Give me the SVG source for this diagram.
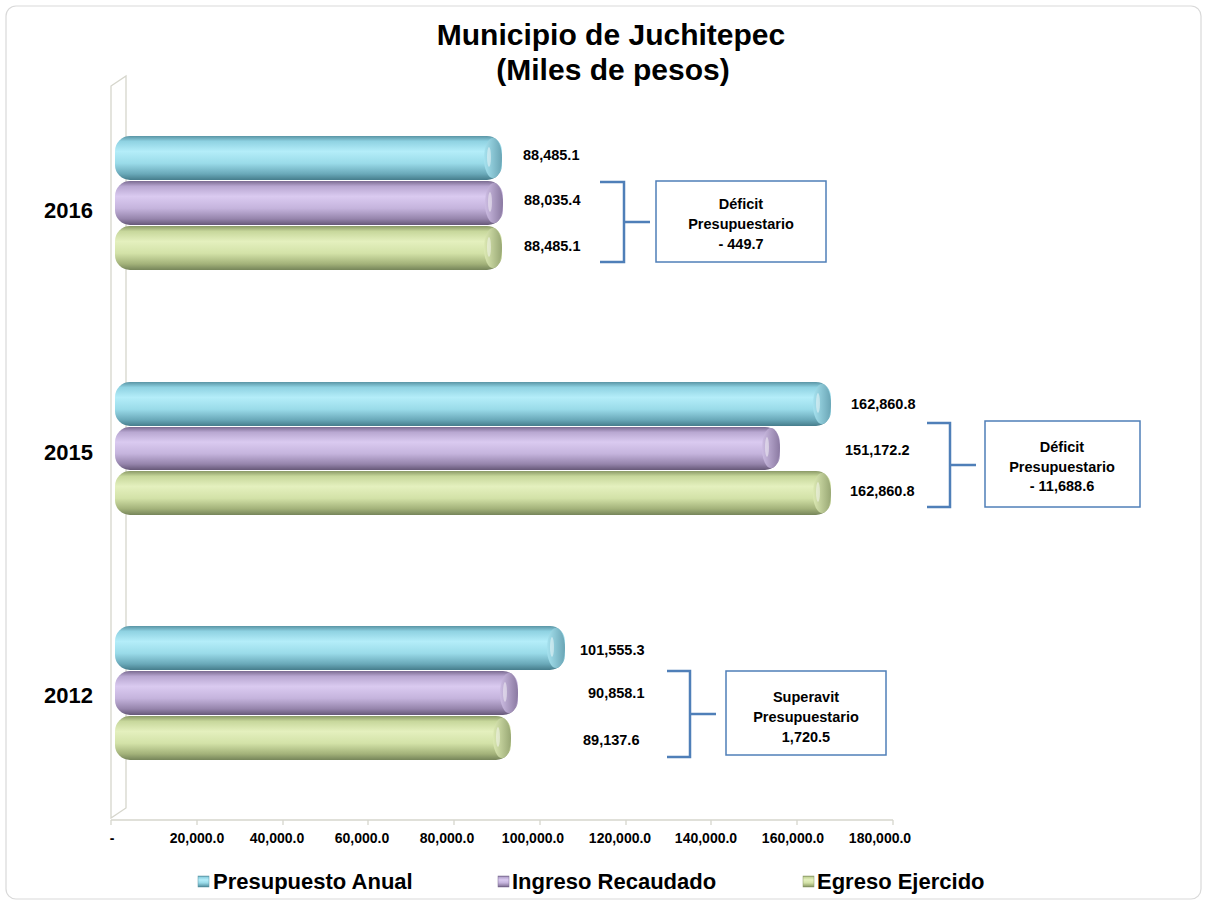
<svg xmlns="http://www.w3.org/2000/svg" width="1206" height="907" viewBox="0 0 1206 907">
<defs>
<linearGradient id="gC" x1="0" y1="0" x2="0" y2="1">
<stop offset="0" stop-color="#5a95a5"/><stop offset="0.12" stop-color="#8fd2e2"/><stop offset="0.35" stop-color="#b4edf9"/><stop offset="0.62" stop-color="#9adbe9"/><stop offset="0.86" stop-color="#6aa9b9"/><stop offset="1" stop-color="#467d8c"/>
</linearGradient>
<linearGradient id="gP" x1="0" y1="0" x2="0" y2="1">
<stop offset="0" stop-color="#7a6a90"/><stop offset="0.12" stop-color="#b8a7d1"/><stop offset="0.35" stop-color="#dacaf0"/><stop offset="0.62" stop-color="#c5b4dd"/><stop offset="0.86" stop-color="#9685ac"/><stop offset="1" stop-color="#665878"/>
</linearGradient>
<linearGradient id="gG" x1="0" y1="0" x2="0" y2="1">
<stop offset="0" stop-color="#8a9966"/><stop offset="0.12" stop-color="#c7d79b"/><stop offset="0.35" stop-color="#e4f0be"/><stop offset="0.62" stop-color="#d3e2a8"/><stop offset="0.86" stop-color="#a3b27a"/><stop offset="1" stop-color="#76855a"/>
</linearGradient>
<linearGradient id="capC" x1="0" y1="0" x2="1" y2="0"><stop offset="0" stop-color="#a6e2ef"/><stop offset="1" stop-color="#6aa5b5"/></linearGradient>
<linearGradient id="capP" x1="0" y1="0" x2="1" y2="0"><stop offset="0" stop-color="#cdbde3"/><stop offset="1" stop-color="#8a79a1"/></linearGradient>
<linearGradient id="capG" x1="0" y1="0" x2="1" y2="0"><stop offset="0" stop-color="#dce9b3"/><stop offset="1" stop-color="#98a774"/></linearGradient>
</defs>
<style>
.frame{fill:#fff;stroke:#d9d9d9;stroke-width:1.2}
.title{font-family:"Liberation Sans",Arial,sans-serif;font-weight:bold;font-size:30px;fill:#000;text-anchor:middle}
.year{font-family:"Liberation Sans",Arial,sans-serif;font-weight:bold;font-size:22px;fill:#000}
.val{font-family:"Liberation Sans",Arial,sans-serif;font-weight:bold;font-size:14.5px;fill:#000}
.ax{font-family:"Liberation Sans",Arial,sans-serif;font-weight:bold;font-size:14px;fill:#000;text-anchor:middle}
.box{fill:#fff;stroke:#4f7fb8;stroke-width:1.5}
.boxt{font-family:"Liberation Sans",Arial,sans-serif;font-weight:bold;font-size:14.5px;fill:#000;text-anchor:middle}
.br{fill:none;stroke:#4f7fb8;stroke-width:2.5}
.wall{fill:none;stroke:#d6d6cc;stroke-width:1.3}
.leg{font-family:"Liberation Sans",Arial,sans-serif;font-weight:bold;font-size:22px;fill:#000}
.hl{fill:#fff;opacity:0.45}
</style>
<rect class="frame" x="6" y="6" width="1195" height="893" rx="10"/>
<g id="title">
<text class="title" x="611" y="45">Municipio de Juchitepec</text>
<text class="title" x="613" y="80">(Miles de pesos)</text>
</g>
<g id="axes">
<path class="wall" d="M111,86 L126,76 L126,808 L111,818 Z"/>
<line class="wall" x1="111" y1="820" x2="893" y2="820"/>
<g class="wall">
<line x1="111" y1="820" x2="111" y2="825"/><line x1="197" y1="820" x2="197" y2="825"/><line x1="283" y1="820" x2="283" y2="825"/><line x1="368" y1="820" x2="368" y2="825"/><line x1="454" y1="820" x2="454" y2="825"/><line x1="540" y1="820" x2="540" y2="825"/><line x1="626" y1="820" x2="626" y2="825"/><line x1="711" y1="820" x2="711" y2="825"/><line x1="797" y1="820" x2="797" y2="825"/><line x1="893" y1="820" x2="893" y2="825"/>
</g>
<text class="ax" x="112" y="843">-</text>
<text class="ax" x="197" y="843">20,000.0</text>
<text class="ax" x="277" y="843">40,000.0</text>
<text class="ax" x="362" y="843">60,000.0</text>
<text class="ax" x="447" y="843">80,000.0</text>
<text class="ax" x="533" y="843">100,000.0</text>
<text class="ax" x="620" y="843">120,000.0</text>
<text class="ax" x="706" y="843">140,000.0</text>
<text class="ax" x="793" y="843">160,000.0</text>
<text class="ax" x="880" y="843">180,000.0</text>
<text class="year" x="44" y="218">2016</text>
<text class="year" x="44" y="460">2015</text>
<text class="year" x="44" y="703">2012</text>
</g>
<!-- 2016 -->
<g id="bar-2016-presupuesto">
<rect x="115" y="136" width="387" height="44" rx="15" fill="url(#gC)"/>
<ellipse cx="493" cy="158" rx="9" ry="20" fill="url(#capC)"/><ellipse class="hl" cx="489" cy="157" rx="2" ry="10"/>
<text class="val" x="523" y="160">88,485.1</text>
</g>
<g id="bar-2016-ingreso">
<rect x="115" y="181" width="388" height="44" rx="15" fill="url(#gP)"/>
<ellipse cx="494" cy="203" rx="9" ry="20" fill="url(#capP)"/><ellipse class="hl" cx="490" cy="202" rx="2" ry="10"/>
<text class="val" x="524" y="205">88,035.4</text>
</g>
<g id="bar-2016-egreso">
<rect x="115" y="226" width="387" height="44" rx="15" fill="url(#gG)"/>
<ellipse cx="493" cy="248" rx="9" ry="20" fill="url(#capG)"/><ellipse class="hl" cx="489" cy="247" rx="2" ry="10"/>
<text class="val" x="524" y="251">88,485.1</text>
</g>
<!-- 2015 -->
<g id="bar-2015-presupuesto">
<rect x="115" y="382" width="716" height="44" rx="15" fill="url(#gC)"/>
<ellipse cx="822" cy="404" rx="9" ry="20" fill="url(#capC)"/><ellipse class="hl" cx="818" cy="403" rx="2" ry="10"/>
<text class="val" x="851" y="409">162,860.8</text>
</g>
<g id="bar-2015-ingreso">
<rect x="115" y="427" width="665" height="43" rx="15" fill="url(#gP)"/>
<ellipse cx="771" cy="448" rx="9" ry="20" fill="url(#capP)"/><ellipse class="hl" cx="767" cy="447" rx="2" ry="10"/>
<text class="val" x="845" y="455">151,172.2</text>
</g>
<g id="bar-2015-egreso">
<rect x="115" y="471" width="716" height="44" rx="15" fill="url(#gG)"/>
<ellipse cx="822" cy="493" rx="9" ry="20" fill="url(#capG)"/><ellipse class="hl" cx="818" cy="492" rx="2" ry="10"/>
<text class="val" x="850" y="496">162,860.8</text>
</g>
<!-- 2012 -->
<g id="bar-2012-presupuesto">
<rect x="115" y="626" width="450" height="44" rx="15" fill="url(#gC)"/>
<ellipse cx="556" cy="648" rx="9" ry="20" fill="url(#capC)"/><ellipse class="hl" cx="552" cy="647" rx="2" ry="10"/>
<text class="val" x="580" y="655">101,555.3</text>
</g>
<g id="bar-2012-ingreso">
<rect x="115" y="671" width="403" height="44" rx="15" fill="url(#gP)"/>
<ellipse cx="509" cy="693" rx="9" ry="20" fill="url(#capP)"/><ellipse class="hl" cx="505" cy="692" rx="2" ry="10"/>
<text class="val" x="588" y="698">90,858.1</text>
</g>
<g id="bar-2012-egreso">
<rect x="115" y="716" width="396" height="44" rx="15" fill="url(#gG)"/>
<ellipse cx="502" cy="738" rx="9" ry="20" fill="url(#capG)"/><ellipse class="hl" cx="498" cy="737" rx="2" ry="10"/>
<text class="val" x="583" y="745">89,137.6</text>
</g>
<g id="connectors">
<path class="br" d="M600,182 H624 V262 H600 M624,222 H650"/>
<path class="br" d="M927,423 H950 V507 H927 M950,465 H976"/>
<path class="br" d="M667,671 H690 V757 H667 M690,714 H716"/>
</g>
<g id="note-2016">
<rect class="box" x="656" y="181" width="170" height="81"/>
<text class="boxt" x="741" y="209">Déficit</text>
<text class="boxt" x="741" y="229">Presupuestario</text>
<text class="boxt" x="741" y="249">- 449.7</text>
</g>
<g id="note-2015">
<rect class="box" x="985" y="421" width="155" height="86"/>
<text class="boxt" x="1062" y="452">Déficit</text>
<text class="boxt" x="1062" y="472">Presupuestario</text>
<text class="boxt" x="1062" y="491">- 11,688.6</text>
</g>
<g id="note-2012">
<rect class="box" x="726" y="671" width="160" height="84"/>
<text class="boxt" x="806" y="702">Superavit</text>
<text class="boxt" x="806" y="722">Presupuestario</text>
<text class="boxt" x="806" y="742">1,720.5</text>
</g>
<g id="legend">
<rect x="198" y="876" width="11" height="11" fill="url(#gC)" stroke="#5a95a5" stroke-width="0.5"/>
<text class="leg" x="213" y="889">Presupuesto Anual</text>
<rect x="498" y="876" width="11" height="11" fill="url(#gP)" stroke="#7a6a90" stroke-width="0.5"/>
<text class="leg" x="512" y="889">Ingreso Recaudado</text>
<rect x="803" y="876" width="11" height="11" fill="url(#gG)" stroke="#8a9966" stroke-width="0.5"/>
<text class="leg" x="817" y="889">Egreso Ejercido</text>
</g>
</svg>
